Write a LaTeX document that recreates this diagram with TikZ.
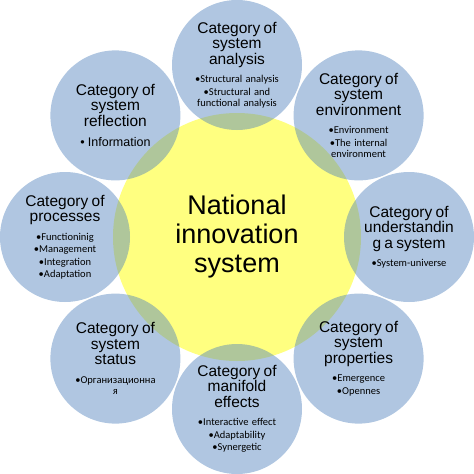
\documentclass[tikz,border=0pt]{standalone}
\usepackage{fontspec}
\usepackage{tikz}
\setmainfont{Liberation Sans}
\newfontfamily\bulletfam{Carlito}
\definecolor{catblue}{RGB}{79,129,189}
\definecolor{hubyellow}{RGB}{255,255,128}
\tikzstyle{hubcircle}=[circle, fill=hubyellow, minimum size=248pt, inner sep=0pt, align=center, font=\fontsize{27pt}{29pt}\selectfont]
\tikzstyle{catcircle}=[circle, fill=catblue, fill opacity=0.45, minimum size=130pt, inner sep=0pt]
\tikzstyle{cattext}=[text width=124pt, align=center, inner sep=0pt]
\newcommand{\titlefont}{\fontsize{15.5pt}{15.5pt}\selectfont}
\newcommand{\bulletfont}{\bulletfam\fontsize{10.5pt}{11pt}\selectfont\setlength{\parskip}{1.5pt}}
\newcommand{\reflfont}{\rmfamily\fontsize{12.5pt}{13pt}\selectfont}
\newcommand{\catNbox}[4]{
	\node[catcircle] (#1) at #2 {};
	\node[cattext] (#1-text) at (#1) {\titlefont #3\par\vspace{6pt}\bulletfont #4\par};
}

\begin{document}
\begin{tikzpicture}[x=1pt,y=-1pt]
	\useasboundingbox (0,0) rectangle (474,474);
	\node[hubcircle] (nis) at (237,237) {National\\innovation\\system};
	\catNbox{analysis}{(237,65)}{Category of\\system\\analysis}{•Structural analysis\par •Structural and\\functional analysis}
	\catNbox{environment}{(358.6,115.4)}{Category of\\system\\environment}{•Environment\par •The internal\\environment}
	\catNbox{understanding}{(409,237)}{Category of\\understandin\\g a system}{•System-universe}
	\catNbox{properties}{(358.6,358.6)}{Category of\\system\\properties}{•Emergence\par •Opennes}
	\catNbox{manifold}{(237,409)}{Category of\\manifold\\effects}{•Interactive effect\par •Adaptability\par •Synergetic}
	\catNbox{status}{(115.4,358.6)}{Category of\\system\\status}{•Организационна\\я}
	\catNbox{processes}{(65,237)}{Category of\\processes}{•Functioninig\par •Management\par •Integration\par •Adaptation}
	\catNbox{reflection}{(115.4,115.4)}{Category of\\system\\reflection}{\reflfont • Information}
\end{tikzpicture}
\end{document}
